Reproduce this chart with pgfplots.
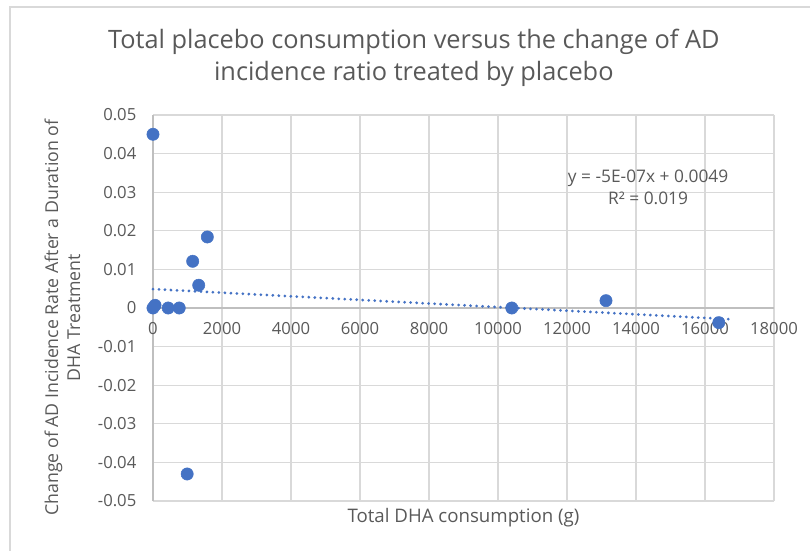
\documentclass[border=0pt]{standalone}
\usepackage{pgfplots}
\pgfplotsset{compat=1.18}
\usepackage{fontspec}
\setmainfont{Open Sans}
\definecolor{txt}{HTML}{595959}
\definecolor{gridc}{HTML}{D9D9D9}
\definecolor{axl}{HTML}{BFBFBF}
\definecolor{dot}{HTML}{4472C4}
\begin{document}
\begin{tikzpicture}[x=0.75pt,y=0.75pt]
\useasboundingbox (0,0) rectangle (810,550);
\draw[gridc, line width=1.1pt] (10,-20) -- (10,543) -- (830,543);
\begin{axis}[
  at={(114.75pt,36.75pt)}, anchor=south west,
  scale only axis, width=465.75pt, height=289.5pt,
  xmin=0, xmax=18000, ymin=-0.05, ymax=0.05,
  scaled ticks=false,
  axis x line=middle, axis y line=left,
  axis line style={-, axl, line width=0.9pt},
  hide obscured x ticks=false, hide obscured y ticks=false,
  major tick length=0pt,
  grid=major, grid style={gridc, line width=0.9pt},
  xtick={0,2000,...,18000},
  xticklabels={0,2000,4000,6000,8000,10000,12000,14000,16000,18000},
  ytick={-0.05,-0.04,-0.03,-0.02,-0.01,0,0.01,0.02,0.03,0.04,0.05},
  yticklabels={-0.05,-0.04,-0.03,-0.02,-0.01,0,0.01,0.02,0.03,0.04,0.05},
  xticklabel style={font=\fontsize{12.5}{14}\selectfont, text=txt, anchor=north, yshift=-7pt},
  yticklabel style={font=\fontsize{12.5}{14}\selectfont, text=txt, anchor=east, xshift=-9pt},
  every axis x label/.style={at={(axis description cs:0.5,-0.042)}, anchor=center, font=\fontsize{14}{16}\selectfont, text=txt},
  every axis y label/.style={at={(axis description cs:-0.146,0.475)}, anchor=center, rotate=90, align=center, font=\fontsize{13.3}{16.5}\selectfont, text=txt},
  every axis title/.style={at={(axis description cs:0.42,1.148)}, anchor=center, align=center, font=\fontsize{19}{24.5}\selectfont, text=txt},
  title={Total placebo consumption versus the change of AD\\incidence ratio treated by placebo},
  xlabel={Total DHA consumption (g)},
  ylabel={Change of AD Incidence Rate After a Duration of\\DHA Treatment},
  clip=false,
]
\addplot[dot, line width=2.3pt, line cap=round, dash pattern=on 0pt off 4.5pt]
  coordinates {(0,0.0049) (16700,-0.0029)};
\addplot[only marks, mark=*, mark size=4.6pt, mark options={fill=dot, draw=dot}]
  coordinates {
  (0,0.045) (0,0) (60,0.0007) (440,0) (760,0) (990,-0.043)
  (1150,0.0121) (1325,0.0059) (1575,0.0184)
  (10400,0) (13130,0.0019) (16400,-0.0038)
  };
\node[align=center, text=txt, font=\fontsize{13}{16.5}\selectfont] at (axis cs:14350,0.0313)
  {y = -5E-07x + 0.0049\\R² = 0.019};
\end{axis}
\end{tikzpicture}
\end{document}
